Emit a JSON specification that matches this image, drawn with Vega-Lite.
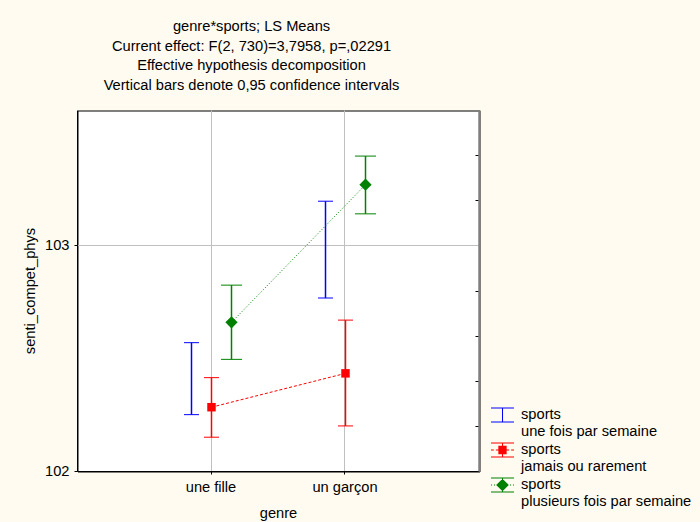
{
  "$schema": "https://vega.github.io/schema/vega-lite/v6.json",
  "width": 402,
  "height": 361,
  "autosize": "none",
  "padding": {"left": 77.5, "top": 110.5, "right": 220.5, "bottom": 50.5},
  "background": "#fffbf0",
  "title": {
    "text": ["genre*sports; LS Means", "Current effect: F(2, 730)=3,7958, p=,02291", "Effective hypothesis decomposition", "Vertical bars denote 0,95 confidence intervals"],
    "fontSize": 14.67,
    "font": "Liberation Sans",
    "fontWeight": "normal",
    "lineHeight": 19.5,
    "anchor": "middle",
    "frame": "group",
    "dx": -27,
    "offset": 18,
    "color": "black"
  },
  "config": {
    "view": {"fill": "white", "stroke": "black", "strokeWidth": 1},
    "font": "Liberation Sans",
    "axis": {
      "labelFont": "Liberation Sans", "titleFont": "Liberation Sans",
      "labelFontSize": 14.67, "titleFontSize": 14.67,
      "labelColor": "black", "titleColor": "black", "titleFontWeight": "normal",
      "domainColor": "black", "tickColor": "black", "gridColor": "#c0c0c0", "translate": 0
    },
    "legend": {
      "labelFont": "Liberation Sans", "labelFontSize": 14.67, "labelColor": "black", "labelLimit": 400, "padding": 0
    }
  },
  "data": {
    "values": [
      {"genre": "une fille", "series": "une fois par semaine", "mean": 102.41, "lo": 102.252, "hi": 102.571},
      {"genre": "une fille", "series": "jamais ou rarement", "mean": 102.285, "lo": 102.152, "hi": 102.416},
      {"genre": "une fille", "series": "plusieurs fois par semaine", "mean": 102.661, "lo": 102.497, "hi": 102.826},
      {"genre": "un garçon", "series": "une fois par semaine", "mean": 102.98, "lo": 102.769, "hi": 103.198},
      {"genre": "un garçon", "series": "jamais ou rarement", "mean": 102.435, "lo": 102.202, "hi": 102.671},
      {"genre": "un garçon", "series": "plusieurs fois par semaine", "mean": 103.271, "lo": 103.142, "hi": 103.398}
    ]
  },
  "encoding": {
    "x": {"field": "genre", "type": "nominal", "sort": ["une fille", "un garçon"],
      "scale": {"type": "band", "paddingInner": 0.70149, "paddingOuter": 0.850746},
      "axis": {"title": "genre", "labelAngle": 0, "tickSize": 3, "bandPosition": 0.5, "grid": true, "labelPadding": 5, "titleY": 42, "titleBaseline": "middle", "domain": true}},
    "xOffset": {"field": "series", "type": "nominal",
      "scale": {"type": "point", "padding": 0, "domain": ["une fois par semaine", "jamais ou rarement", "plusieurs fois par semaine"]}},
    "color": {"field": "series", "type": "nominal",
      "scale": {"domain": ["une fois par semaine", "jamais ou rarement", "plusieurs fois par semaine"], "range": ["#0000ff", "#ff0000", "#008000"]}}
  },
  "layer": [
    {
      "transform": [{"filter": "false"}],
      "mark": {"type": "point", "filled": true, "opacity": 1, "strokeWidth": 0},
      "encoding": {
        "y": {"field": "mean", "type": "quantitative", "scale": {"domain": [102, 103.6], "nice": false, "zero": false},
          "axis": {"orient": "right", "title": null, "values": [102.2, 102.4, 102.6, 102.8, 103.2, 103.4], "labels": false, "tickSize": -4, "grid": false, "domainColor": "#808080", "domainWidth": 2.5}},
        "color": {"field": "series", "type": "nominal",
          "legend": {"title": null, "orient": "none", "legendX": 413.5, "legendY": 293, "symbolSize": 529, "symbolStrokeWidth": 0, "symbolOpacity": 1, "labelOffset": 7, "labelExpr": "['sports', datum.label]", "rowPadding": -3,
            "encode": {"labels": {"lineHeight": {"value": 17}}}}},
        "shape": {"field": "series", "type": "nominal",
          "scale": {"domain": ["une fois par semaine", "jamais ou rarement", "plusieurs fois par semaine"],
            "range": [
              "M-1,-0.66H1V-0.57H-1ZM-1,0.57H1V0.66H-1ZM-0.045,-0.6H0.045V0.6H-0.045Z",
              "M-1,-0.66H1V-0.57H-1ZM-1,0.57H1V0.66H-1ZM-0.045,-0.6H0.045V0.6H-0.045ZM-1,-0.045H-0.75V0.045H-1ZM-0.58,-0.045H-0.36V0.045H-0.58ZM0.36,-0.045H0.58V0.045H0.36ZM0.75,-0.045H1V0.045H0.75ZM-0.36,-0.36H0.36V0.36H-0.36Z",
              "M-1,-0.66H1V-0.57H-1ZM-1,0.57H1V0.66H-1ZM-0.045,-0.6H0.045V0.6H-0.045ZM-1,-0.045H-0.91V0.045H-1ZM-0.74,-0.045H-0.65V0.045H-0.74ZM-0.48,-0.045H-0.39V0.045H-0.48ZM0.39,-0.045H0.48V0.045H0.39ZM0.65,-0.045H0.74V0.045H0.65ZM0.91,-0.045H1V0.045H0.91ZM0,-0.55L0.55,0L0,0.55L-0.55,0Z"
            ]},
          "legend": {"title": null, "orient": "none", "legendX": 413.5, "legendY": 293, "symbolSize": 529, "symbolStrokeWidth": 0, "symbolOpacity": 1, "labelOffset": 7, "labelExpr": "['sports', datum.label]", "rowPadding": -3,
            "encode": {"labels": {"lineHeight": {"value": 17}}}}}
      }
    },
    {
      "transform": [{"filter": "datum.series == 'une fois par semaine'"}],
      "mark": {"type": "rule", "strokeWidth": 1.5, "color": "#0000ff"},
      "encoding": {
        "y": {"field": "lo", "type": "quantitative",
          "axis": {"orient": "left", "title": "senti_compet_phys", "values": [102, 103], "tickSize": 3, "labelPadding": 5, "grid": true, "titleX": -47, "titleY": 180.5, "titleBaseline": "middle", "titleAngle": -90, "titleAlign": "center", "domain": true}},
        "y2": {"field": "hi"},
        "color": null
      }
    },
    {
      "transform": [{"filter": "datum.series == 'jamais ou rarement'"}],
      "mark": {"type": "rule", "strokeWidth": 1.5, "color": "#ff0000"},
      "encoding": {"y": {"field": "lo", "type": "quantitative", "axis": null}, "y2": {"field": "hi"}, "color": null}
    },
    {
      "transform": [{"filter": "datum.series == 'plusieurs fois par semaine'"}],
      "mark": {"type": "rule", "strokeWidth": 1.5, "color": "#008000"},
      "encoding": {"y": {"field": "lo", "type": "quantitative", "axis": null}, "y2": {"field": "hi"}, "color": null}
    },
    {
      "transform": [{"filter": "datum.series != 'plusieurs fois par semaine'"}],
      "mark": {"type": "tick", "orient": "horizontal", "thickness": 1, "opacity": 1, "size": 15},
      "encoding": {"y": {"field": "lo", "type": "quantitative", "axis": null}}
    },
    {
      "transform": [{"filter": "datum.series != 'plusieurs fois par semaine'"}],
      "mark": {"type": "tick", "orient": "horizontal", "thickness": 1, "opacity": 1, "size": 15},
      "encoding": {"y": {"field": "hi", "type": "quantitative", "axis": null}}
    },
    {
      "transform": [{"filter": "datum.series == 'plusieurs fois par semaine'"}],
      "mark": {"type": "tick", "orient": "horizontal", "thickness": 1, "opacity": 1, "size": 21},
      "encoding": {"y": {"field": "lo", "type": "quantitative", "axis": null}}
    },
    {
      "transform": [{"filter": "datum.series == 'plusieurs fois par semaine'"}],
      "mark": {"type": "tick", "orient": "horizontal", "thickness": 1, "opacity": 1, "size": 21},
      "encoding": {"y": {"field": "hi", "type": "quantitative", "axis": null}}
    },
    {
      "transform": [{"filter": "datum.series == 'jamais ou rarement'"}],
      "mark": {"type": "line", "strokeWidth": 1, "strokeDash": [3, 2]},
      "encoding": {"y": {"field": "mean", "type": "quantitative", "axis": null}}
    },
    {
      "transform": [{"filter": "datum.series == 'plusieurs fois par semaine'"}],
      "mark": {"type": "line", "strokeWidth": 1, "strokeDash": [1, 2]},
      "encoding": {"y": {"field": "mean", "type": "quantitative", "axis": null}}
    },
    {
      "transform": [{"filter": "datum.series == 'jamais ou rarement'"}],
      "mark": {"type": "point", "shape": "square", "filled": true, "size": 72, "opacity": 1},
      "encoding": {"y": {"field": "mean", "type": "quantitative", "axis": null}}
    },
    {
      "transform": [{"filter": "datum.series == 'plusieurs fois par semaine'"}],
      "mark": {"type": "point", "shape": "diamond", "filled": true, "size": 150, "opacity": 1},
      "encoding": {"y": {"field": "mean", "type": "quantitative", "axis": null}}
    }
  ]
}
